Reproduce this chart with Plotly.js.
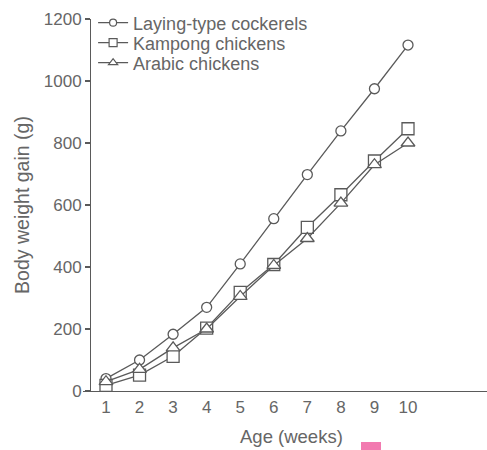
<!DOCTYPE html>
<html>
<head>
<meta charset="utf-8">
<script src="https://cdn.plot.ly/plotly-3.0.1.min.js"></script>
<style>html,body{margin:0;padding:0;background:#fff;}#chart{width:487px;height:450px;}</style>
</head>
<body>
<div id="chart"></div>
<script>
const weeks = [1, 2, 3, 4, 5, 6, 7, 8, 9, 10];
const layingCockerels = [40, 100, 183, 270, 410, 556, 698, 839, 975, 1116];
const kampongChickens = [18, 51, 112, 203, 318, 408, 528, 633, 742, 846];
const arabicChickens = [30, 70, 139, 200, 305, 405, 492, 606, 730, 800];
const seriesNames = ['Laying-type cockerels', 'Kampong chickens', 'Arabic chickens'];
const yTicks = [0, 200, 400, 600, 800, 1000, 1200];

const lineCol = '#5a5a5a';
const txtCol = '#666';
const symbols = ['circle', 'square', 'triangle-up'];
const sizes = [10, 12, 12];
const legendSizes = [7, 8, 8];
const legendIds = ['legend', 'legend2', 'legend3'];
const seriesVals = [layingCockerels, kampongChickens, arabicChickens];

const data = [];
seriesVals.forEach((vals, i) => {
  data.push({
    x: weeks, y: vals, name: seriesNames[i], type: 'scatter', mode: 'lines+markers',
    showlegend: false,
    line: {color: lineCol, width: 1.3},
    marker: {symbol: symbols[i], size: sizes[i], color: '#fff', line: {color: lineCol, width: 1.3}}
  });
});
seriesVals.forEach((vals, i) => {
  data.push({
    x: [null], y: [null], name: seriesNames[i], type: 'scatter', mode: 'lines+markers',
    legend: legendIds[i], showlegend: true,
    line: {color: lineCol, width: 1.2},
    marker: {symbol: symbols[i], size: legendSizes[i], color: '#fff', line: {color: lineCol, width: 1.2}}
  });
});

const rowPix = [23, 43, 63];
function legendAt(pix) {
  return {x: 0.025, y: 1 - (pix - 19) / 372, xanchor: 'left', yanchor: 'middle',
    bgcolor: 'rgba(0,0,0,0)', font: {size: 18, color: txtCol}, itemwidth: 30};
}

const layout = {
  width: 487, height: 450,
  margin: {l: 83, r: 0, t: 19, b: 59},
  paper_bgcolor: '#fff', plot_bgcolor: '#fff',
  font: {family: 'Liberation Sans, Arial, sans-serif', size: 16, color: txtCol},
  legend: legendAt(rowPix[0]),
  legend2: legendAt(rowPix[1]),
  legend3: legendAt(rowPix[2]),
  xaxis: {
    range: [0.315, 12.354], tickvals: weeks, ticktext: weeks.map(String),
    showgrid: false, zeroline: false, showline: true, linecolor: lineCol, linewidth: 1.3,
    ticks: '', tickfont: {size: 17, color: txtCol}
  },
  yaxis: {
    range: [0, 1200], tickvals: yTicks, anchor: 'free', position: 7/404,
    showgrid: false, zeroline: false, showline: true, linecolor: lineCol, linewidth: 1.3,
    ticks: 'outside', ticklen: 5, tickcolor: lineCol, tickwidth: 1.3,
    tickfont: {size: 17, color: txtCol},
    title: {text: 'Body weight gain (g)', font: {size: 19.5, color: txtCol}, standoff: 7}
  },
  annotations: [
    {text: 'Age (weeks)', xref: 'paper', yref: 'paper', x: (291-83)/404, y: -(437-391)/372,
     xanchor: 'center', yanchor: 'middle', showarrow: false, font: {size: 18.5, color: txtCol}}
  ],
  shapes: [
    {type: 'rect', xref: 'paper', yref: 'paper', x0: (361-83)/404, x1: (381-83)/404,
     y0: -(442-391)/372, y1: -(452-391)/372, fillcolor: '#f27ab0', line: {width: 0}}
  ]
};
Plotly.newPlot('chart', data, layout, {displayModeBar: false, staticPlot: true});
</script>
</body>
</html>
